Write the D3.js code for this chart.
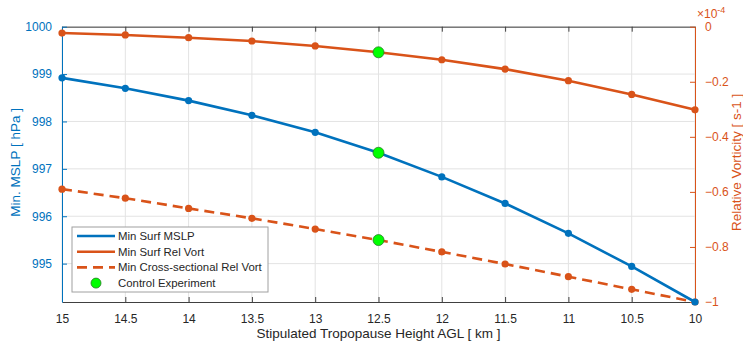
<!DOCTYPE html>
<html><head><meta charset="utf-8">
<script src="https://cdn.jsdelivr.net/npm/d3@7"></script>
<style>body{margin:0;background:#fff}svg{display:block;font-family:"Liberation Sans",Arial,sans-serif}</style>
</head><body><svg id="c" width="743" height="349"></svg>
<script>
const heights = [15, 14.5, 14, 13.5, 13, 12.5, 12, 11.5, 11, 10.5, 10];
const mslp = [998.92, 998.70, 998.44, 998.13, 997.77, 997.34, 996.83, 996.27, 995.64, 994.94, 994.19];
const surfVort = [-0.023, -0.030, -0.040, -0.052, -0.070, -0.093, -0.120, -0.154, -0.196, -0.246, -0.302];
const crossVort = [-0.590, -0.623, -0.660, -0.696, -0.735, -0.775, -0.818, -0.862, -0.908, -0.954, -1.0];
const controlHeight = 12.5;
const xTicks = [15, 14.5, 14, 13.5, 13, 12.5, 12, 11.5, 11, 10.5, 10];
const yLeftTicks = [995, 996, 997, 998, 999, 1000];
const yRightTicks = [-1, -0.8, -0.6, -0.4, -0.2, 0];
const legendLabels = ["Min Surf MSLP", "Min Surf Rel Vort", "Min Cross-sectional Rel Vort", "Control Experiment"];

const BLUE = "#0072BD", ORANGE = "#D95319", GREEN = "#00FF00";
const L = 62, R = 695, T = 26.7, B = 302;
const svg = d3.select("#c");
const x = d3.scaleLinear().domain([15, 10]).range([L, R]);
const yL = d3.scaleLinear().domain([d3.min(mslp), 1000]).range([B, T]);
const yR = d3.scaleLinear().domain([-1, 0]).range([B, T]);

// grid
const g = svg.append("g");
g.selectAll("line.gx").data(xTicks).join("line")
  .attr("x1", d => x(d)).attr("x2", d => x(d)).attr("y1", T).attr("y2", B)
  .attr("stroke", "#e3e3e3").attr("stroke-width", 1);
g.selectAll("line.gy").data(yLeftTicks).join("line")
  .attr("x1", L).attr("x2", R).attr("y1", d => yL(d)).attr("y2", d => yL(d))
  .attr("stroke", "#e3e3e3").attr("stroke-width", 1);

// axes
const tickLen = 5;
const xb = svg.append("g").attr("transform", `translate(0,${B})`)
  .call(d3.axisBottom(x).tickValues(xTicks).tickSizeInner(-tickLen).tickSizeOuter(0).tickPadding(12).tickFormat(d3.format("")));
xb.select(".domain").attr("stroke", "#404040");
xb.selectAll(".tick line").attr("stroke", "#404040");
xb.selectAll("text").attr("fill", "#262626").style("font-size", "12px");

const xt = svg.append("g").attr("transform", `translate(0,${T})`)
  .call(d3.axisTop(x).tickValues(xTicks).tickSizeInner(-tickLen).tickSizeOuter(0).tickFormat(""));
xt.select(".domain").attr("stroke", "#404040");
xt.selectAll(".tick line").attr("stroke", "#404040");

const yl = svg.append("g").attr("transform", `translate(${L},0)`)
  .call(d3.axisLeft(yL).tickValues(yLeftTicks).tickSizeInner(-tickLen).tickSizeOuter(0).tickPadding(10).tickFormat(d3.format("")));
yl.select(".domain").attr("stroke", BLUE);
yl.selectAll(".tick line").attr("stroke", BLUE);
yl.selectAll("text").attr("fill", BLUE).style("font-size", "12px");

const yr = svg.append("g").attr("transform", `translate(${R},0)`)
  .call(d3.axisRight(yR).tickValues(yRightTicks).tickSizeInner(-tickLen).tickSizeOuter(0).tickPadding(10).tickFormat(d => d === 0 ? "0" : d3.format("")(d)));
yr.select(".domain").attr("stroke", ORANGE);
yr.selectAll(".tick line").attr("stroke", ORANGE);
yr.selectAll("text").attr("fill", ORANGE).style("font-size", "12px");

// exponent
const ex = svg.append("text").attr("x", R + 2).attr("y", 18).attr("fill", ORANGE).style("font-size", "12px");
ex.append("tspan").text("\u00d710");
ex.append("tspan").attr("dy", -5).style("font-size", "9px").text("-4");

// axis labels
svg.append("text").attr("x", (L + R) / 2).attr("y", 338).attr("text-anchor", "middle")
  .attr("fill", "#262626").style("font-size", "13.5px").text("Stipulated Tropopause Height AGL [ km ]");
svg.append("text").attr("transform", `translate(20,${(T + B) / 2 - 2}) rotate(-90)`).attr("text-anchor", "middle")
  .attr("fill", BLUE).style("font-size", "13.5px").text("Min. MSLP [ hPa ]");
svg.append("text").attr("transform", `translate(741,${(T + B) / 2 - 2}) rotate(-90)`).attr("text-anchor", "middle")
  .attr("fill", ORANGE).style("font-size", "13.5px").text("Relative Vorticity [ s-1 ]");

// series
const lw = 2.6;
function series(vals, ys, color, dash) {
  const data = heights.map((h, i) => [h, vals[i]]);
  svg.append("path").datum(data)
    .attr("d", d3.line().x(d => x(d[0])).y(d => ys(d[1])))
    .attr("fill", "none").attr("stroke", color).attr("stroke-width", lw)
    .attr("stroke-dasharray", dash || null);
  svg.append("g").selectAll("circle").data(data).join("circle")
    .attr("cx", d => x(d[0])).attr("cy", d => ys(d[1])).attr("r", 3.6).attr("fill", color);
  return data;
}
series(surfVort, yR, ORANGE);
series(crossVort, yR, ORANGE, "10,6");
series(mslp, yL, BLUE);

// control markers
const ci = heights.indexOf(controlHeight);
const ctrl = [[yL, mslp[ci]], [yR, surfVort[ci]], [yR, crossVort[ci]]];
svg.append("g").selectAll("circle").data(ctrl).join("circle")
  .attr("cx", x(controlHeight)).attr("cy", d => d[0](d[1])).attr("r", 5.5)
  .attr("fill", GREEN).attr("stroke", "#2a7a2a").attr("stroke-width", 0.8);

// legend
const lg = svg.append("g");
const lx = 72, ly = 227, lwid = 196, lht = 65;
lg.append("rect").attr("x", lx).attr("y", ly).attr("width", lwid).attr("height", lht)
  .attr("fill", "#fff").attr("stroke", "#a0a0a0").attr("stroke-width", 1);
const rows = [
  {c: BLUE, dash: null, label: legendLabels[0]},
  {c: ORANGE, dash: null, label: legendLabels[1]},
  {c: ORANGE, dash: "10,6", label: legendLabels[2]},
  {c: GREEN, marker: true, label: legendLabels[3]}
];
rows.forEach((r, i) => {
  const yy = ly + 9 + i * 15.7;
  if (r.marker) {
    lg.append("circle").attr("cx", 96).attr("cy", yy).attr("r", 5)
      .attr("fill", GREEN).attr("stroke", "#2a7a2a").attr("stroke-width", 0.8);
  } else {
    lg.append("line").attr("x1", 77).attr("x2", 115).attr("y1", yy).attr("y2", yy)
      .attr("stroke", r.c).attr("stroke-width", lw).attr("stroke-dasharray", r.dash);
  }
  lg.append("text").attr("x", 118).attr("y", yy + 4).attr("fill", "#262626")
    .style("font-size", "11.4px").text(r.label);
});
</script></body></html>
